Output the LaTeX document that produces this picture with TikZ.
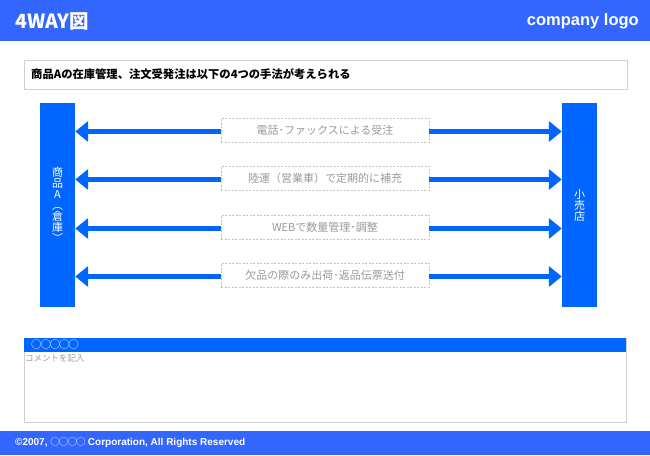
\documentclass[tikz,border=0pt]{standalone}
\usepackage{fontspec}
\setmainfont{Liberation Sans}
\newfontfamily\jp{Noto Sans CJK JP}
\usetikzlibrary{arrows.meta}
\definecolor{hdr}{HTML}{3366FF}
\definecolor{barc}{HTML}{0066FF}
\definecolor{edgegray}{HTML}{D0D0D0}
\definecolor{labgray}{HTML}{9A9A9A}
\tikzset{
  bandbox/.style={fill=hdr, draw=none, inner sep=0pt, anchor=north west},
  sidebar/.style={fill=barc, draw=none, minimum width=35pt, minimum height=204pt, inner sep=0pt, text=white, font=\jp\fontsize{11}{11}\selectfont, align=center},
  labelbox/.style={draw=labgray!60, dash pattern=on 2pt off 1.5pt, line width=0.6pt, minimum width=208pt, minimum height=24pt, inner sep=0pt, text=labgray, font=\jp\fontsize{11}{12}\selectfont},
  flowarrow/.style={draw=barc, line width=5pt, -{Triangle[length=13pt,width=20pt]}},
  framebox/.style={draw=edgegray, line width=0.8pt, inner sep=0pt, anchor=north west}
}
\begin{document}
\begin{tikzpicture}[x=1pt,y=-1pt]
\useasboundingbox (0,0) rectangle (650,455);
% header
\node[bandbox, minimum width=650pt, minimum height=41pt] (header) at (0,0) {};
\node[anchor=west, text=white, font=\jp\bfseries\fontsize{19.5}{20}\selectfont, inner sep=0pt] (title) at (15,21) {4WAY図};
\node[anchor=east, text=white, font=\bfseries\fontsize{16.5}{18}\selectfont, inner sep=0pt] (logo) at (639,21) {company logo};
% statement
\node[framebox, minimum width=603pt, minimum height=29pt] (stmt) at (24,60) {};
\node[anchor=west, inner sep=0pt, font=\jp\bfseries\fontsize{11.3}{12}\selectfont] (stmttext) at (31,74.5) {商品Aの在庫管理、注文受発注は以下の4つの手法が考えられる};
% side bars
\node[sidebar] (lbar) at (57.5,205) {商\\品\\A\\︵\\倉\\庫\\︶};
\node[sidebar] (rbar) at (579.5,205) {小\\売\\店};
% labels
\node[labelbox] (m1) at (325,130) {電話･ファックスによる受注};
\node[labelbox] (m2) at (325,178) {陸運（営業車）で定期的に補充};
\node[labelbox] (m3) at (325,227) {WEBで数量管理･調整};
\node[labelbox] (m4) at (325,275) {欠品の際のみ出荷･返品伝票送付};
% arrows
\foreach \m in {m1,m2,m3,m4}{
  \draw[flowarrow] ([yshift=-1.5pt]\m.west) -- ([yshift=-1.5pt]\m.west -| lbar.east);
  \draw[flowarrow] ([yshift=-1.5pt]\m.east) -- ([yshift=-1.5pt]\m.east -| rbar.west);
}
% comment box
\node[framebox, minimum width=602pt, minimum height=84pt] (cbox) at (24,338) {};
\node[fill=barc, inner sep=0pt, anchor=north west, minimum width=602pt, minimum height=14pt] (cband) at (24,338) {};
\node[anchor=west, inner sep=0pt, text=white, font=\jp\fontsize{10.5}{12}\selectfont] (ctitle) at (31,345) {○\kern-1.2pt○\kern-1.2pt○\kern-1.2pt○\kern-1.2pt○};
\node[anchor=west, inner sep=0pt, text=labgray, font=\jp\fontsize{8.5}{10}\selectfont] (ctext) at (25,358) {コメントを記入};
% footer
\node[bandbox, minimum width=650pt, minimum height=24pt] (footer) at (0,431) {};
\node[anchor=west, inner sep=0pt, text=white, font=\bfseries\fontsize{10}{11}\selectfont] (copy) at (15,443) {©2007, {\jp\mdseries\fontsize{9.5}{11}\selectfont ○\kern-0.9pt○\kern-0.9pt○\kern-0.9pt○}\kern-0.5pt\ Corporation, All Rights Reserved};
\end{tikzpicture}
\end{document}
